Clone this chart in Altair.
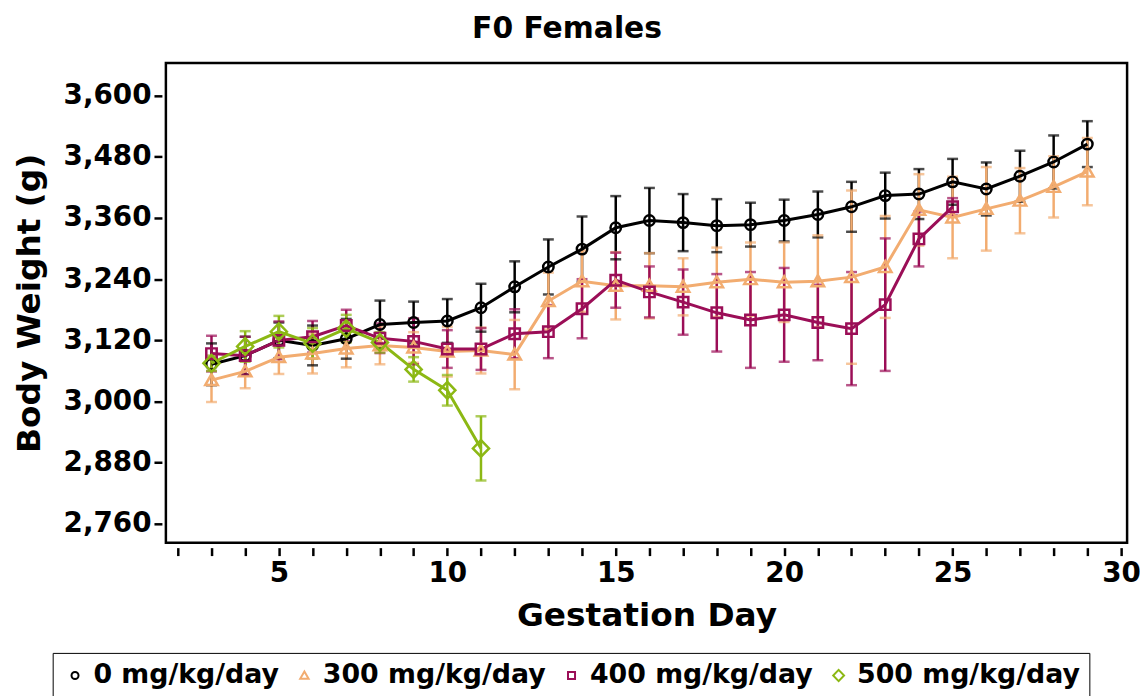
import altair as alt
import pandas as pd

# ---- data ----
groups = ["0 mg/kg/day", "300 mg/kg/day", "400 mg/kg/day", "500 mg/kg/day"]
colors = ["#000000", "#F2AC70", "#9B0E57", "#8CB814"]
shapes = ["circle", "M0,-1.15L1.2,0.95L-1.2,0.95Z", "square", "M0,-1.6L1.55,0L0,1.6L-1.55,0Z"]

days_0 = list(range(3, 30))
mean_0 = [3073, 3090, 3120, 3110, 3123, 3151, 3155, 3158, 3184, 3225, 3264, 3299, 3341, 3355,
          3351, 3345, 3347, 3355, 3367, 3382, 3404, 3407, 3431, 3417, 3442, 3470, 3505]
err_0 = [41, 37, 35, 39, 39, 47, 41, 43, 47, 50, 54, 64, 62, 64,
         56, 52, 43, 41, 45, 49, 45, 49, 45, 52, 50, 52, 45]

days_300 = list(range(3, 30))
mean_300 = [3042, 3059, 3087, 3094, 3104, 3110, 3106, 3098, 3100, 3092, 3197, 3236, 3227, 3227,
            3225, 3234, 3240, 3234, 3236, 3244, 3264, 3376, 3361, 3378, 3394, 3421, 3451]
err_300 = [43, 33, 33, 39, 37, 37, 30, 49, 45, 68, 56, 60, 66, 64,
           56, 68, 72, 78, 90, 170, 100, 70, 80, 82, 64, 60, 66]

days_400 = list(range(3, 26))
mean_400 = [3094, 3090, 3120, 3127, 3149, 3124, 3118, 3103, 3103, 3133, 3137, 3182, 3238, 3215,
            3195, 3174, 3160, 3170, 3155, 3143, 3190, 3319, 3382]
err_400 = [35, 37, 37, 31, 31, 29, 45, 37, 41, 48, 52, 58, 54, 50,
           64, 76, 94, 92, 74, 111, 130, 54, 17]

days_500 = list(range(3, 12))
mean_500 = [3075, 3108, 3137, 3114, 3143, 3116, 3063, 3022, 2908]
err_500 = [15, 30, 31, 30, 27, 20, 24, 30, 63]

x_ticks = list(range(2, 31))
y_ticks = [2760, 2880, 3000, 3120, 3240, 3360, 3480, 3600]

rows = []
for g, d, m, e in [(groups[0], days_0, mean_0, err_0), (groups[1], days_300, mean_300, err_300),
                   (groups[2], days_400, mean_400, err_400), (groups[3], days_500, mean_500, err_500)]:
    for di, mi, ei in zip(d, m, e):
        rows.append({"group": g, "order": groups.index(g), "day": di, "mean": mi,
                     "lo": mi - ei, "hi": mi + ei})
df = pd.DataFrame(rows)

FONT = "DejaVu Sans"

xscale = alt.Scale(domain=[1.646, 30.18], nice=False, zero=False)
yscale = alt.Scale(domain=[2723, 3664], nice=False, zero=False)

x_enc = alt.X("day:Q", scale=xscale, title="Gestation Day",
              axis=alt.Axis(values=x_ticks, tickCount=40, format="d", labelOverlap=False,
                            labelFlush=False,
                            labelExpr="datum.value % 5 == 0 ? datum.label : ''",
                            tickSize=8, tickWidth=2.5, tickColor="black", domain=False, offset=5,
                            grid=False, labelFont=FONT, labelFontSize=28, labelFontWeight="bold",
                            labelColor="black", labelPadding=4, titleFont=FONT, titleFontSize=33,
                            titleFontWeight="bold", titleColor="black", titlePadding=12))
y_axis = alt.Axis(values=y_ticks, tickCount=20, format=",d", tickSize=8, tickWidth=2.5,
                  tickColor="black", labelOverlap=False, labelFlush=False,
                  domain=False, offset=4, grid=False, labelFont=FONT, labelFontSize=28,
                  labelFontWeight="bold", labelColor="black", labelPadding=3, titleFont=FONT,
                  titleFontSize=33, titleFontWeight="bold", titleColor="black", titlePadding=17)

# permuted (but equivalent) domains so the hidden stroke/fill legends do not merge
# with (and disable) the visible color/shape legend
perm_s = [1, 0, 2, 3]
perm_f = [2, 0, 1, 3]
stroke_scale = alt.Scale(domain=[groups[i] for i in perm_s], range=[colors[i] for i in perm_s])
fill_scale = alt.Scale(domain=[groups[i] for i in perm_f], range=[colors[i] for i in perm_f])

base = alt.Chart(df)
stroke_enc = alt.Stroke("group:N", scale=stroke_scale, legend=None)
fill_enc = alt.Fill("group:N", scale=fill_scale, legend=None)

rules = base.mark_rule(strokeWidth=2.5).encode(
    x=x_enc,
    y=alt.Y("lo:Q", scale=yscale, axis=y_axis, title="Body Weight (g)"),
    y2="hi:Q",
    stroke=stroke_enc,
)
cap_lo = base.mark_tick(orient="horizontal", size=11, thickness=2.5).encode(
    x="day:Q", y=alt.Y("lo:Q"), fill=fill_enc)
cap_hi = base.mark_tick(orient="horizontal", size=11, thickness=2.5).encode(
    x="day:Q", y=alt.Y("hi:Q"), fill=fill_enc)

lines = base.mark_line(strokeWidth=3).encode(
    x="day:Q", y="mean:Q",
    stroke=stroke_enc,
    detail="group:N",
    order="day:Q",
)

points = base.mark_point(filled=False, strokeWidth=2.5, opacity=1, size=110).encode(
    x="day:Q", y="mean:Q",
    color=alt.Color("group:N", scale=alt.Scale(domain=groups, range=colors), title=None,
                    legend=alt.Legend(orient="none", legendX=-114, legendY=594,
                                      direction="horizontal", strokeColor="black",
                                      padding=9, symbolSize=50, symbolStrokeWidth=2,
                                      labelFont=FONT, labelFontSize=27, labelFontWeight="bold",
                                      labelColor="black", labelOffset=5, columnPadding=12,
                                      labelLimit=400)),
    shape=alt.Shape("group:N", scale=alt.Scale(domain=groups, range=shapes), title=None),
)

chart = alt.layer(rules, cap_lo, cap_hi, lines, points).properties(
    width=968, height=483,
    background="white",
    title=alt.TitleParams("F0 Females", font=FONT, fontSize=30, fontWeight="bold",
                          color="black", anchor="middle", dx=-80, offset=19),
    autosize=alt.AutoSizeParams(type="none"),
    padding={"left": 159, "top": 53, "right": 13, "bottom": 160},
).configure_view(stroke="black", strokeWidth=2.5)

chart.save("out.html", embed_options={"renderer": "svg", "actions": False})
